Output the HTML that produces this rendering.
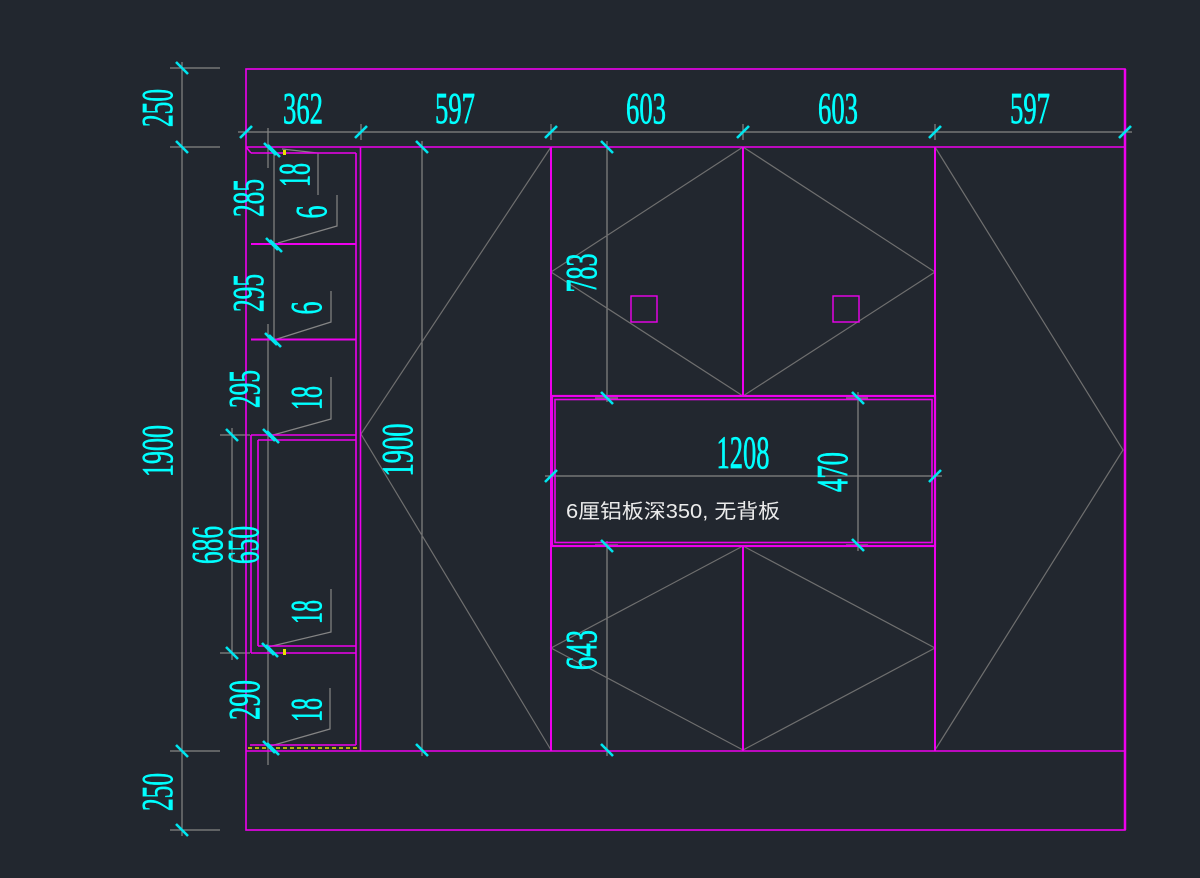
<!DOCTYPE html>
<html>
<head>
<meta charset="utf-8">
<style>
html,body{margin:0;padding:0;background:#22272f;}
svg{display:block;}
.cad{font-family:"Liberation Serif",serif;fill:#00ffff;stroke:#00ffff;stroke-width:0.7;font-size:44px;}
</style>
</head>
<body>
<svg width="1200" height="878" viewBox="0 0 1200 878" xmlns="http://www.w3.org/2000/svg">
<rect x="0" y="0" width="1200" height="878" fill="#22272f"/>

<!-- grey dimension / extension lines -->
<g stroke="#858585" stroke-width="1.2" fill="none">
  <line x1="238" y1="132" x2="1132" y2="132"/>
  <line x1="246" y1="120" x2="246" y2="138"/>
  <line x1="361" y1="124" x2="361" y2="140"/>
  <line x1="551" y1="124" x2="551" y2="140"/>
  <line x1="743" y1="124" x2="743" y2="140"/>
  <line x1="935" y1="124" x2="935" y2="140"/>
  <line x1="1125" y1="124" x2="1125" y2="140"/>
  <line x1="182" y1="62" x2="182" y2="836"/>
  <line x1="170" y1="68" x2="220" y2="68"/>
  <line x1="170" y1="147" x2="220" y2="147"/>
  <line x1="170" y1="751" x2="220" y2="751"/>
  <line x1="170" y1="830" x2="220" y2="830"/>
  <line x1="232" y1="428" x2="232" y2="660"/>
  <line x1="220" y1="435" x2="250" y2="435"/>
  <line x1="220" y1="653" x2="250" y2="653"/>
  <line x1="268" y1="128" x2="268" y2="168"/>
  <line x1="274" y1="150" x2="274" y2="244"/>
  <line x1="274" y1="244" x2="274" y2="339"/>
  <line x1="268" y1="324" x2="268" y2="435"/>
  <line x1="268" y1="435" x2="268" y2="652"/>
  <line x1="268" y1="645" x2="268" y2="765"/>
  <line x1="422" y1="141" x2="422" y2="756"/>
  <line x1="607" y1="141" x2="607" y2="402"/>
  <line x1="607" y1="541" x2="607" y2="756"/>
  <line x1="595" y1="398" x2="618" y2="398"/>
  <line x1="595" y1="545" x2="618" y2="545"/>
  <line x1="858" y1="392" x2="858" y2="551"/>
  <line x1="846" y1="398" x2="868" y2="398"/>
  <line x1="846" y1="545" x2="868" y2="545"/>
  <line x1="545" y1="476" x2="942" y2="476"/>
  <line x1="551" y1="466" x2="551" y2="486"/>
  <line x1="935" y1="466" x2="935" y2="486"/>
  <polyline points="282,149 318,153 318,195"/>
  <polyline points="337,195 337,226 278,243"/>
  <polyline points="331,291 331,322 277,339"/>
  <polyline points="331,377 331,419 273,435"/>
  <polyline points="331,589 331,632 268,647"/>
  <polyline points="330,688 330,729 267,747"/>
</g>

<!-- door diagonals -->
<g stroke="#6f6f6f" stroke-width="1.2" fill="none">
  <polyline points="551,147 361,434 551,750"/>
  <polyline points="743,147 551,272 743,396"/>
  <polyline points="743,147 935,272 743,396"/>
  <polyline points="743,546 551,648 743,750"/>
  <polyline points="743,546 935,648 743,750"/>
  <polyline points="935,147 1123,450 935,750"/>
</g>

<!-- magenta structure -->
<g stroke="#ee00ee" stroke-width="1.6" fill="none">
  <rect x="246" y="69" width="879" height="761"/>
  <line x1="246" y1="147" x2="1125" y2="147"/>
  <line x1="246" y1="751" x2="1125" y2="751"/>
  <line x1="1125" y1="69" x2="1125" y2="830" stroke-width="2.5"/>
  <line x1="551" y1="147" x2="551" y2="751" stroke-width="2"/>
  <line x1="935" y1="147" x2="935" y2="751" stroke-width="2"/>
  <line x1="743" y1="147" x2="743" y2="396" stroke-width="2"/>
  <line x1="743" y1="546" x2="743" y2="751" stroke-width="2"/>
  <rect x="552" y="396" width="383" height="150" stroke-width="2.2"/>
  <rect x="555" y="399.5" width="377" height="143" stroke-width="1.6"/>
  <rect x="631" y="296" width="26" height="26" stroke-width="1.4"/>
  <rect x="833" y="296" width="26" height="26" stroke-width="1.4"/>
  <line x1="251" y1="153" x2="356" y2="153"/>
  <line x1="246" y1="147" x2="251" y2="153"/>
  <line x1="356" y1="153" x2="356" y2="745"/>
  <line x1="360.5" y1="147" x2="360.5" y2="751"/>
  <line x1="251" y1="244" x2="356" y2="244" stroke-width="2"/>
  <line x1="251" y1="339.5" x2="356" y2="339.5" stroke-width="2"/>
  <line x1="251" y1="435" x2="356" y2="435"/>
  <line x1="258" y1="440" x2="356" y2="440"/>
  <line x1="251" y1="435" x2="251" y2="653"/>
  <line x1="258" y1="440" x2="258" y2="646"/>
  <line x1="258" y1="646" x2="356" y2="646"/>
  <line x1="251" y1="653" x2="356" y2="653"/>
  <line x1="250" y1="745" x2="356" y2="745"/>
</g>
<line x1="248" y1="748" x2="360" y2="748" stroke="#e8e000" stroke-width="1.5" stroke-dasharray="4,3"/>
<rect x="283" y="150" width="3" height="5" fill="#e8e000"/>
<rect x="283" y="649" width="3" height="6" fill="#e8e000"/>

<!-- cyan ticks -->
<g stroke="#00e5ee" stroke-width="2.6" stroke-linecap="butt">
  <line x1="240" y1="138" x2="252" y2="126"/>
  <line x1="355" y1="138" x2="367" y2="126"/>
  <line x1="545" y1="138" x2="557" y2="126"/>
  <line x1="737" y1="138" x2="749" y2="126"/>
  <line x1="929" y1="138" x2="941" y2="126"/>
  <line x1="1119" y1="138" x2="1131" y2="126"/>
  <line x1="545" y1="482" x2="557" y2="470"/>
  <line x1="929" y1="482" x2="941" y2="470"/>
  <line x1="176" y1="62" x2="188" y2="74"/>
  <line x1="176" y1="141" x2="188" y2="153"/>
  <line x1="176" y1="745" x2="188" y2="757"/>
  <line x1="176" y1="824" x2="188" y2="836"/>
  <line x1="226" y1="429" x2="238" y2="441"/>
  <line x1="226" y1="647" x2="238" y2="659"/>
  <line x1="264" y1="143" x2="276" y2="155"/>
  <line x1="268" y1="145" x2="280" y2="157"/>
  <line x1="266" y1="238" x2="278" y2="250"/>
  <line x1="270" y1="240" x2="282" y2="252"/>
  <line x1="265" y1="333" x2="277" y2="345"/>
  <line x1="269" y1="335" x2="281" y2="347"/>
  <line x1="263" y1="429" x2="275" y2="441"/>
  <line x1="267" y1="431" x2="279" y2="443"/>
  <line x1="262" y1="643" x2="274" y2="655"/>
  <line x1="266" y1="645" x2="278" y2="657"/>
  <line x1="263" y1="741" x2="275" y2="753"/>
  <line x1="267" y1="743" x2="279" y2="755"/>
  <line x1="416" y1="141" x2="428" y2="153"/>
  <line x1="416" y1="744" x2="428" y2="756"/>
  <line x1="601" y1="141" x2="613" y2="153"/>
  <line x1="601" y1="392" x2="613" y2="404"/>
  <line x1="601" y1="540" x2="613" y2="552"/>
  <line x1="601" y1="744" x2="613" y2="756"/>
  <line x1="852" y1="392" x2="864" y2="404"/>
  <line x1="852" y1="539" x2="864" y2="551"/>
</g>

<g class="cad" text-anchor="middle">
  <text x="303" y="123" textLength="40" lengthAdjust="spacingAndGlyphs">362</text>
  <text x="455" y="123" textLength="40" lengthAdjust="spacingAndGlyphs">597</text>
  <text x="646" y="123" textLength="40" lengthAdjust="spacingAndGlyphs">603</text>
  <text x="838" y="123" textLength="40" lengthAdjust="spacingAndGlyphs">603</text>
  <text x="1030" y="123" textLength="40" lengthAdjust="spacingAndGlyphs">597</text>
  <text x="743" y="468" font-size="47" textLength="53" lengthAdjust="spacingAndGlyphs">1208</text>
</g>

<g class="cad" text-anchor="middle">
  <text transform="translate(172,108) rotate(-90)" textLength="38" lengthAdjust="spacingAndGlyphs">250</text>
  <text transform="translate(172,451) rotate(-90)" textLength="52" lengthAdjust="spacingAndGlyphs">1900</text>
  <text transform="translate(172,792) rotate(-90)" textLength="38" lengthAdjust="spacingAndGlyphs">250</text>
  <text transform="translate(263,198) rotate(-90)" textLength="38" lengthAdjust="spacingAndGlyphs">285</text>
  <text transform="translate(263,293) rotate(-90)" textLength="38" lengthAdjust="spacingAndGlyphs">295</text>
  <text transform="translate(259,389) rotate(-90)" textLength="38" lengthAdjust="spacingAndGlyphs">295</text>
  <text transform="translate(222,545) rotate(-90)" textLength="38" lengthAdjust="spacingAndGlyphs">686</text>
  <text transform="translate(258,545) rotate(-90)" textLength="38" lengthAdjust="spacingAndGlyphs">650</text>
  <text transform="translate(259,700) rotate(-90)" textLength="40" lengthAdjust="spacingAndGlyphs">290</text>
  <text transform="translate(309,175) rotate(-90)" textLength="24" lengthAdjust="spacingAndGlyphs">18</text>
  <text transform="translate(326,212) rotate(-90)" textLength="13" lengthAdjust="spacingAndGlyphs">6</text>
  <text transform="translate(321,308) rotate(-90)" textLength="13" lengthAdjust="spacingAndGlyphs">6</text>
  <text transform="translate(321,398) rotate(-90)" textLength="24" lengthAdjust="spacingAndGlyphs">18</text>
  <text transform="translate(321,612) rotate(-90)" textLength="24" lengthAdjust="spacingAndGlyphs">18</text>
  <text transform="translate(321,710) rotate(-90)" textLength="24" lengthAdjust="spacingAndGlyphs">18</text>
  <text transform="translate(412,450) rotate(-90)" textLength="53" lengthAdjust="spacingAndGlyphs">1900</text>
  <text transform="translate(596,273) rotate(-90)" textLength="39" lengthAdjust="spacingAndGlyphs">783</text>
  <text transform="translate(847,472) rotate(-90)" textLength="40" lengthAdjust="spacingAndGlyphs">470</text>
  <text transform="translate(596,650) rotate(-90)" textLength="40" lengthAdjust="spacingAndGlyphs">643</text>
</g>

<text x="566" y="518" font-family="'Liberation Sans','Noto Sans CJK SC',sans-serif" font-size="20" fill="#ececec" textLength="214" lengthAdjust="spacingAndGlyphs">6厘铝板深350, 无背板</text>
</svg>
</body>
</html>
